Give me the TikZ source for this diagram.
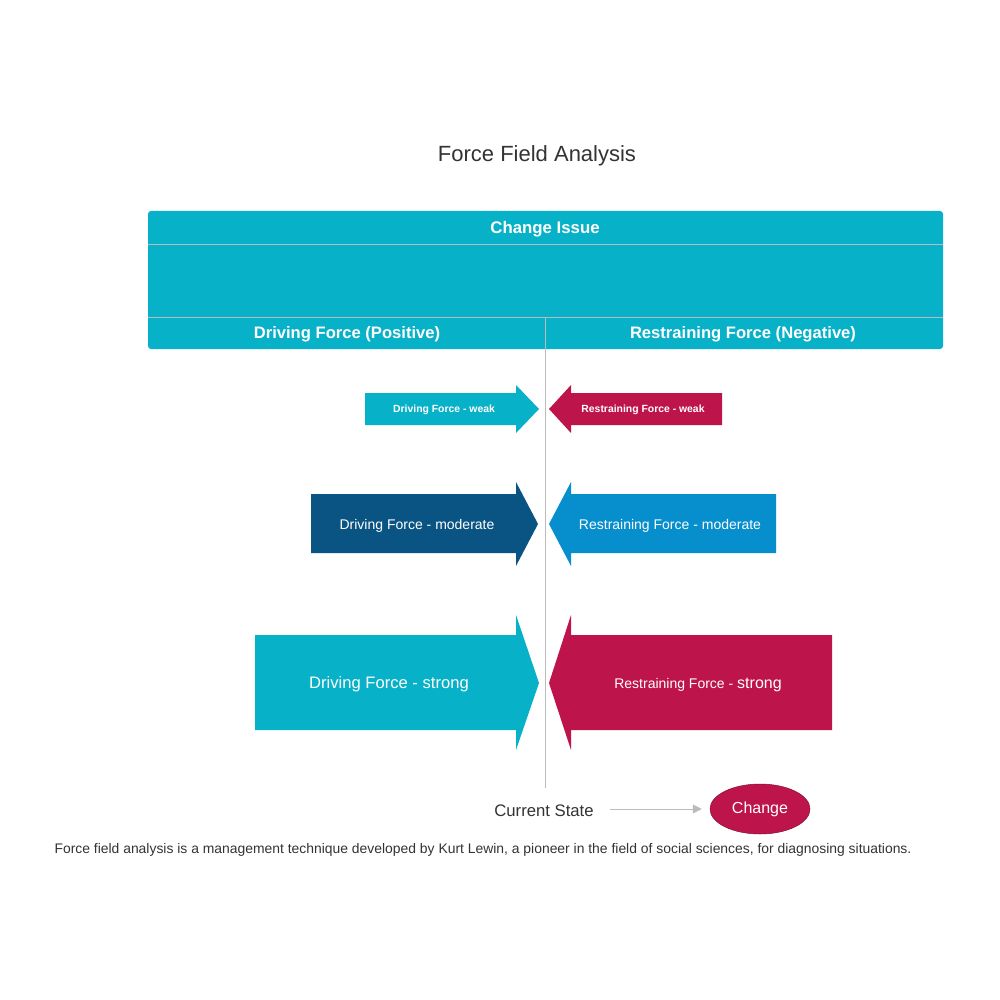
\documentclass[tikz,border=0pt]{standalone}
\usepackage{fontspec}
\setmainfont{Liberation Sans}
\usetikzlibrary{arrows.meta,shapes.geometric}
\definecolor{cyanF}{HTML}{07B1C8}
\definecolor{crimF}{HTML}{BE144C}
\definecolor{navyF}{HTML}{0A5483}
\definecolor{blueF}{HTML}{078ECC}
\definecolor{txtG}{HTML}{333333}
\definecolor{lineG}{HTML}{BBBBBB}
\tikzset{
  lbl/.style={text=white, inner sep=0pt, anchor=center},
  sep/.style={draw=lineG, line width=0.8pt},
}
\begin{document}
\begin{tikzpicture}[x=1pt,y=-1pt]
\useasboundingbox (0,0) rectangle (1000,1000);
\fill[white] (0,0) rectangle (1000,1000);
% title
\node[text=txtG, font=\fontsize{22}{26}\selectfont] (title) at (537,155.5) {Force Field Analysis};
% header box
\fill[cyanF, rounded corners=3pt] (148,211) rectangle (943,349);
\draw[sep] (148,244) -- (943,244);
\draw[sep] (148,317) -- (943,317);
\node[lbl, font=\fontsize{16.8}{20}\selectfont\bfseries] (issue) at (545,229) {Change Issue};
\node[lbl, font=\fontsize{16.6}{20}\selectfont\bfseries] (pos) at (347,334.5) {Driving Force (Positive)};
\node[lbl, font=\fontsize{16.6}{20}\selectfont\bfseries] (neg) at (743,334.5) {Restraining Force (Negative)};
\coordinate (divtop) at (545,317);
\coordinate (divbot) at (545,788);
\draw[sep] (divtop) -- (divbot);
% weak
\fill[cyanF] (365,393) -- (516,393) -- (516,385) -- (539,409) -- (516,433) -- (516,425) -- (365,425) -- cycle;
\node[lbl, font=\fontsize{10.4}{12}\selectfont\bfseries] (dw) at (444,410) {Driving Force - weak};
\fill[crimF] (722,393) -- (571,393) -- (571,385) -- (549,409) -- (571,433) -- (571,425) -- (722,425) -- cycle;
\node[lbl, font=\fontsize{10.4}{12}\selectfont\bfseries] (rw) at (643,410) {Restraining Force - weak};
% moderate
\fill[navyF] (311,494) -- (516,494) -- (516,482) -- (538,524) -- (516,566) -- (516,553) -- (311,553) -- cycle;
\node[lbl, font=\fontsize{14}{17}\selectfont] (dm) at (417,525.5) {Driving Force - moderate};
\fill[blueF] (776,494) -- (571,494) -- (571,482) -- (549,524) -- (571,566) -- (571,553) -- (776,553) -- cycle;
\node[lbl, font=\fontsize{14}{17}\selectfont] (rm) at (670,525.5) {Restraining Force - moderate};
% strong
\fill[cyanF] (255,635) -- (516,635) -- (516,615) -- (539,683) -- (516,750) -- (516,730) -- (255,730) -- cycle;
\node[lbl, font=\fontsize{16.6}{20}\selectfont] (ds) at (389,684.5) {Driving Force - strong};
\fill[crimF] (832,635) -- (571,635) -- (571,615) -- (549,683) -- (571,750) -- (571,730) -- (832,730) -- cycle;
\node[lbl, font=\fontsize{14}{17}\selectfont] (rs) at (698,685) {Restraining Force - {\fontsize{16}{19}\selectfont strong}};
% current state -> change
\node[text=txtG, font=\fontsize{16.7}{20}\selectfont, inner sep=0pt] (cur) at (544,810.5) {Current State};
\node[ellipse, fill=crimF, draw=crimF!70!black, line width=0.5pt, minimum width=100pt, minimum height=50pt, inner sep=0pt, text=white, font=\fontsize{16}{19}\selectfont] (chg) at (760,809) {\raisebox{-1pt}{Change}};
\draw[draw=lineG, line width=0.8pt, -{Triangle[length=9pt,width=9pt,fill=lineG]}] ([xshift=16pt]cur.east |- chg.west) -- ([xshift=-8pt]chg.west);
% footer
\node[text=txtG, font=\fontsize{13.9}{16}\selectfont, inner sep=0pt] (foot) at (483,850) {Force field analysis is a management technique developed by Kurt Lewin, a pioneer in the field of social sciences, for diagnosing situations.};
\end{tikzpicture}
\end{document}
